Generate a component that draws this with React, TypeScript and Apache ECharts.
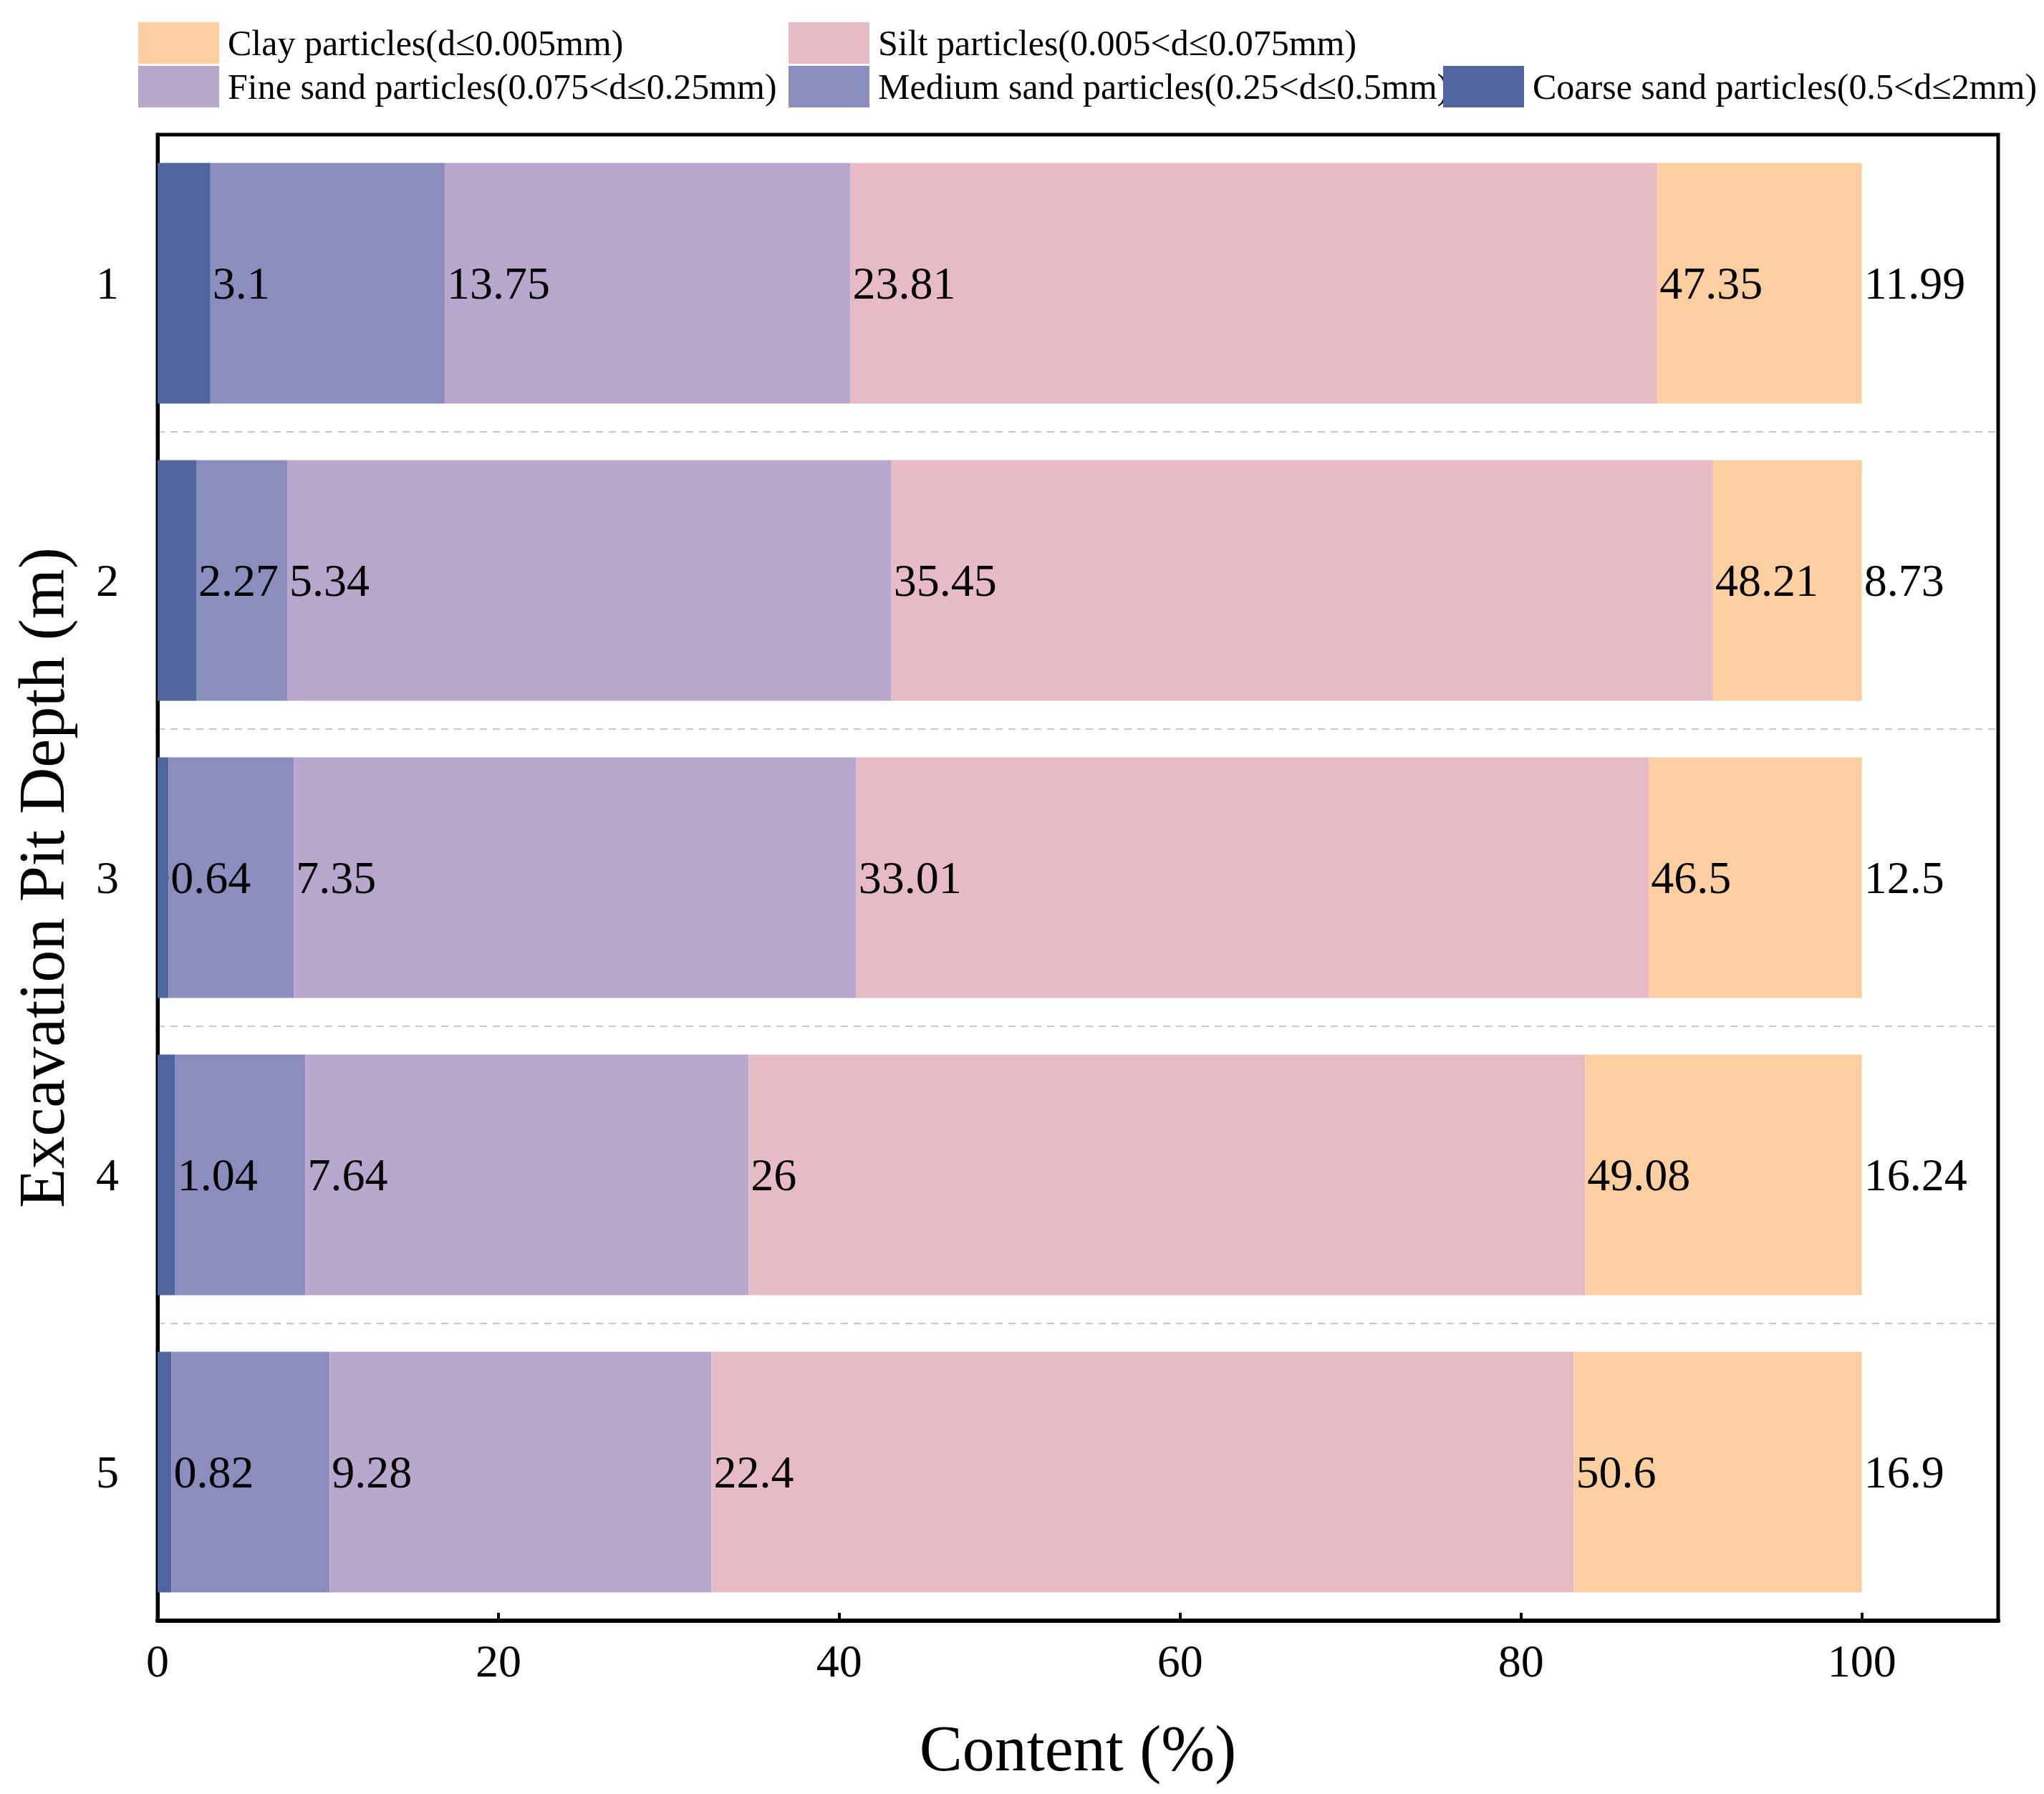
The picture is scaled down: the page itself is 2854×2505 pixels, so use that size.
import * as echarts from 'echarts';
import { useEffect, useRef } from 'react';

// depth categories (m), top to bottom
const categories = ['1', '2', '3', '4', '5'];

// particle content (%) per depth
const coarseSand = [3.1, 2.27, 0.64, 1.04, 0.82];
const mediumSand = [13.75, 5.34, 7.35, 7.64, 9.28];
const fineSand = [23.81, 35.45, 33.01, 26, 22.4];
const silt = [47.35, 48.21, 46.5, 49.08, 50.6];
const clay = [11.99, 8.73, 12.5, 16.24, 16.9];

const xMin = 0;
const xMax = 108;
const xInterval = 20;

const names = {
  clay: 'Clay particles(d≤0.005mm)',
  silt: 'Silt particles(0.005<d≤0.075mm)',
  fine: 'Fine sand particles(0.075<d≤0.25mm)',
  medium: 'Medium sand particles(0.25<d≤0.5mm)',
  coarse: 'Coarse sand particles(0.5<d≤2mm)'
};

const colors = {
  coarse: '#4f659d',
  medium: '#8a8dbe',
  fine: '#b8a7cd',
  silt: '#e7bbc5',
  clay: '#fdcfa0'
};

const FONT = '"Liberation Serif", "Times New Roman", serif';

export default function App() {
  const elRef = useRef<HTMLDivElement | null>(null);

  useEffect(() => {
    document.body.style.margin = '0';
    if (!elRef.current) return;
    const chart = echarts.init(elRef.current, undefined, { renderer: 'svg' });

    const legendItem = (name: string, left: number, top: number) => ({
      data: [name],
      left,
      top,
      padding: 0,
      icon: 'rect',
      itemWidth: 113,
      itemHeight: 58,
      selectedMode: false,
      textStyle: { fontFamily: FONT, fontSize: 50, color: '#000', padding: [0, 0, 0, 7] }
    });

    const bar = (name: string, data: number[], color: string) => ({
      type: 'bar',
      name,
      data,
      stack: 'total',
      barCategoryGap: '19%',
      itemStyle: { color },
      label: {
        show: true,
        position: 'right',
        distance: 3,
        color: '#000',
        fontFamily: FONT,
        fontSize: 64
      }
    });

    chart.setOption({
      animation: false,
      backgroundColor: '#fff',
      legend: [
        legendItem(names.clay, 193, 31),
        legendItem(names.silt, 1101, 31),
        legendItem(names.fine, 193, 92),
        legendItem(names.medium, 1101, 92),
        legendItem(names.coarse, 2015, 92)
      ],
      grid: {
        left: 220,
        right: 64,
        top: 188,
        bottom: 242,
        show: true,
        borderColor: '#000',
        borderWidth: 5,
        backgroundColor: 'transparent'
      },
      xAxis: {
        type: 'value',
        min: xMin,
        max: xMax,
        interval: xInterval,
        name: 'Content (%)',
        nameLocation: 'middle',
        nameGap: 133,
        nameTextStyle: { fontFamily: FONT, fontSize: 90, color: '#000' },
        axisLine: { show: true, lineStyle: { color: '#000', width: 6 } },
        axisTick: { show: true, inside: true, length: 11, lineStyle: { color: '#000', width: 4 } },
        axisLabel: {
          color: '#000',
          fontFamily: FONT,
          fontSize: 64,
          margin: 24,
          showMaxLabel: false
        },
        splitLine: { show: false }
      },
      yAxis: {
        type: 'category',
        data: categories,
        inverse: true,
        name: 'Excavation Pit Depth (m)',
        nameLocation: 'middle',
        nameGap: 117,
        nameTextStyle: { fontFamily: FONT, fontSize: 90, color: '#000' },
        axisLine: { show: true, lineStyle: { color: '#000', width: 5 } },
        axisTick: {
          show: true,
          inside: true,
          alignWithLabel: true,
          length: 16,
          lineStyle: { color: '#000', width: 5 }
        },
        axisLabel: { color: '#000', fontFamily: FONT, fontSize: 64, margin: 54 },
        splitLine: {
          show: true,
          showMinLine: false,
          showMaxLine: false,
          lineStyle: { color: '#c8c8c8', width: 2, type: [10, 8] }
        }
      },
      series: [
        bar(names.coarse, coarseSand, colors.coarse),
        bar(names.medium, mediumSand, colors.medium),
        bar(names.fine, fineSand, colors.fine),
        bar(names.silt, silt, colors.silt),
        bar(names.clay, clay, colors.clay)
      ]
    });

    return () => {
      chart.dispose();
    };
  }, []);

  return <div ref={elRef} style={{ width: 2854, height: 2505 }} />;
}
